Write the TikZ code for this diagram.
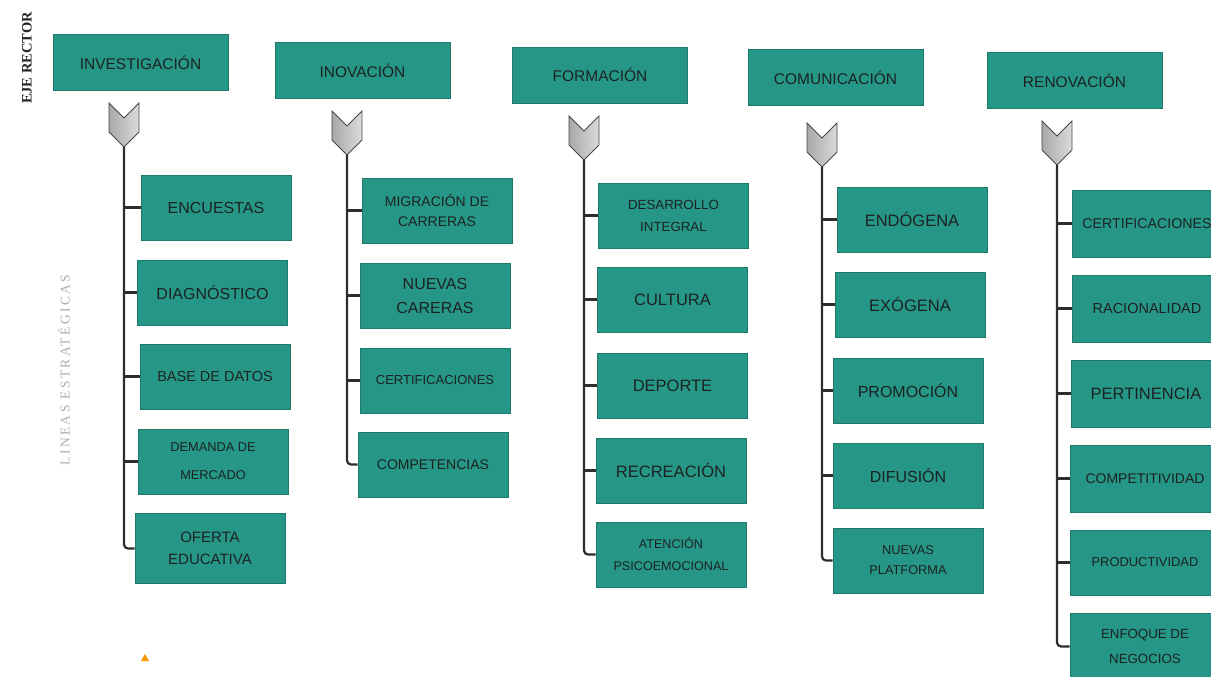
\documentclass[tikz,border=0pt]{standalone}
\usepackage{fontspec}
\setmainfont{Liberation Sans}
\newfontfamily\eserif{Liberation Serif}
\newfontfamily\lserif[LetterSpace=18]{Liberation Serif}
\definecolor{teal1}{RGB}{38,151,134}
\definecolor{tealdk}{RGB}{32,122,108}
\definecolor{txt}{RGB}{28,34,34}
\definecolor{ln}{RGB}{45,45,45}
\begin{document}
\begin{tikzpicture}[x=1pt,y=-1pt,
  f/.style 2 args={font=\fontsize{#1}{#2}\selectfont},
  box/.style={rectangle, fill=teal1, draw=tealdk, line width=0.6pt, text=txt, align=center, inner sep=2pt},
  hbox/.style={box, minimum width=175pt, minimum height=56pt, f={15.5}{18}},
  cbox/.style={box, minimum width=150pt, minimum height=65pt},
  conn/.style={draw=ln, line width=2.2pt},
  chev/.style={left color=gray!68, right color=gray!28, draw=gray!55!black, line width=0.8pt, line join=miter}]
\useasboundingbox (0,0) rectangle (1211,677);
\fill[white] (0,0) rectangle (1211,677);

% side labels
\node[rotate=90, text=black!85, font=\eserif\bfseries\fontsize{14.5}{16}\selectfont] (eje) at (27,58) {EJE RECTOR};
\node[rotate=90, text=black!32, font=\lserif\fontsize{13.5}{16}\selectfont] (lin) at (64,370) {LINEAS ESTRATÉGICAS};

% headers
\node[hbox] (h1) at (140.5,62.5) {INVESTIGACIÓN};
\node[hbox] (h2) at (362.5,70.5) {INOVACIÓN};
\node[hbox] (h3) at (600,75) {FORMACIÓN};
\node[hbox] (h4) at (835.5,77.5) {COMUNICACIÓN};
\node[hbox] (h5) at (1074.5,80.5) {RENOVACIÓN};

% chevron tips
\coordinate (t1) at (124,147);
\coordinate (t2) at (347,155);
\coordinate (t3) at (584,160);
\coordinate (t4) at (822,167);
\coordinate (t5) at (1057,165);
\foreach \t in {t1,t2,t3,t4,t5}{
  \path[chev] (\t) ++(-15,-44) -- ++(15,15) -- ++(15,-15) -- ++(0,29) -- (\t) -- ++(-15,-15) -- cycle;
}

% column 1
\node[cbox, f={16}{19}] (a1) at (216,207.5) {ENCUESTAS};
\node[cbox, f={16}{19}] (a2) at (212.5,292.5) {DIAGNÓSTICO};
\node[cbox, f={14.5}{18}] (a3) at (215,376.5) {BASE DE DATOS};
\node[cbox, f={12.8}{28}] (a4) at (213,461.5) {DEMANDA DE\\MERCADO};
\node[cbox, minimum height=70pt, f={15}{22}] (a5) at (210,548.5) {OFERTA\\EDUCATIVA};

% column 2
\node[cbox, f={14}{20}] (b1) at (437,210.5) {MIGRACIÓN DE\\CARRERAS};
\node[cbox, f={16}{24}] (b2) at (435,295.5) {NUEVAS\\CARERAS};
\node[cbox, f={13}{16}] (b3) at (435,380.5) {CERTIFICACIONES};
\node[cbox, f={14}{17}] (b4) at (433,464.5) {COMPETENCIAS};

% column 3
\node[cbox, f={13.3}{22}] (c1) at (673.5,215.5) {DESARROLLO\\INTEGRAL};
\node[cbox, f={16.5}{19}] (c2) at (672.5,299.5) {CULTURA};
\node[cbox, f={16.5}{19}] (c3) at (672.5,385.5) {DEPORTE};
\node[cbox, f={16.5}{19}] (c4) at (671,470.5) {RECREACIÓN};
\node[cbox, f={12.6}{22}] (c5) at (671,554.5) {ATENCIÓN\\PSICOEMOCIONAL};

% column 4
\node[cbox, f={16.5}{19}] (d1) at (912,219.5) {ENDÓGENA};
\node[cbox, f={16.5}{19}] (d2) at (910,304.5) {EXÓGENA};
\node[cbox, f={16}{19}] (d3) at (908,390.5) {PROMOCIÓN};
\node[cbox, f={16}{19}] (d4) at (908,475.5) {DIFUSIÓN};
\node[cbox, f={12.8}{20}] (d5) at (908,560.5) {NUEVAS\\PLATFORMA};

% column 5
\node[cbox, minimum height=67pt, f={14.2}{17}] (e1) at (1147,223.5) {CERTIFICACIONES};
\node[cbox, minimum height=67pt, f={14.5}{17}] (e2) at (1147,308.5) {RACIONALIDAD};
\node[cbox, minimum height=67pt, f={16.5}{19}] (e3) at (1146,393.5) {PERTINENCIA};
\node[cbox, minimum height=67pt, f={14}{17}] (e4) at (1145,478.5) {COMPETITIVIDAD};
\node[cbox, minimum height=65pt, f={12.9}{16}] (e5) at (1145,562.5) {PRODUCTIVIDAD};
\node[cbox, minimum height=67pt, f={13.3}{25}] (e6) at (1145,646.5) {ENFOQUE DE\\NEGOCIOS};

% connectors
\foreach \n in {a1,a2,a3,a4} \draw[conn] (t1) |- (\n.west);
\draw[conn, rounded corners=4pt] (t1) |- (a5.west);
\foreach \n in {b1,b2,b3} \draw[conn] (t2) |- (\n.west);
\draw[conn, rounded corners=4pt] (t2) |- (b4.west);
\foreach \n in {c1,c2,c3,c4} \draw[conn] (t3) |- (\n.west);
\draw[conn, rounded corners=4pt] (t3) |- (c5.west);
\foreach \n in {d1,d2,d3,d4} \draw[conn] (t4) |- (\n.west);
\draw[conn, rounded corners=4pt] (t4) |- (d5.west);
\foreach \n in {e1,e2,e3,e4,e5} \draw[conn] (t5) |- (\n.west);
\draw[conn, rounded corners=4pt] (t5) |- (e6.west);

% small orange mark
\fill[orange!85!yellow] (141,661) -- (145,654) -- (149,661) -- cycle;
\end{tikzpicture}
\end{document}
